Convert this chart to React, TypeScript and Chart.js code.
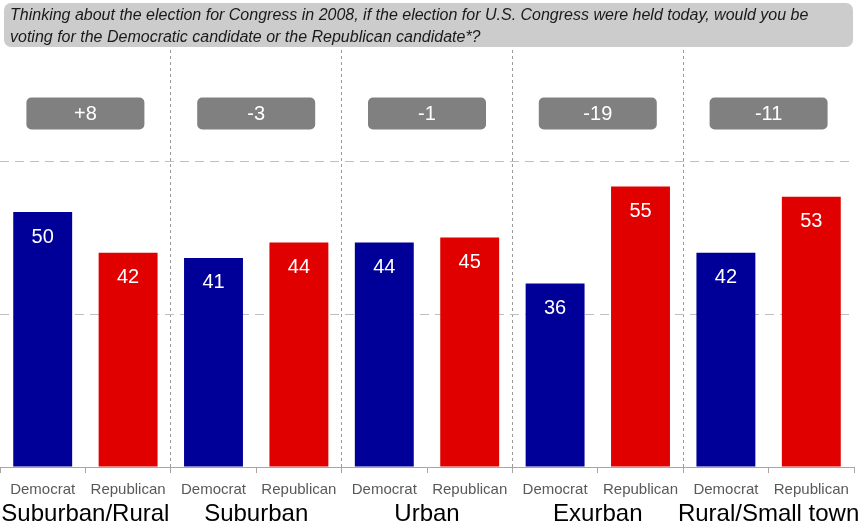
import React, { useEffect, useRef } from 'react';
import { Chart, registerables } from 'chart.js';

Chart.register(...registerables);

const question =
  'Thinking about the election for Congress in 2008, if the election for U.S. Congress were held today, would you be voting for the Democratic candidate or the Republican candidate*?';
const groups = ['Suburban/Rural', 'Suburban', 'Urban', 'Exurban', 'Rural/Small town'];
const parties = ['Democrat', 'Republican'];
const demValues = [50, 41, 44, 36, 42];
const repValues = [42, 44, 45, 55, 53];
const margins = ['+8', '-3', '-1', '-19', '-11'];
const gridValues = [30, 60];

const DEM = '#000099';
const REP = '#E00000';
const FONT = "'Liberation Sans', Arial, Helvetica, sans-serif";

export default function App() {
  const ref = useRef<HTMLCanvasElement>(null);

  useEffect(() => {
    const labels = groups.flatMap(() => parties);
    const values = groups.flatMap((_, i) => [demValues[i], repValues[i]]);
    const colors = groups.flatMap(() => [DEM, REP]);

    const overlay = {
      id: 'overlay',
      afterDatasetsDraw(chart: any) {
        const ctx = chart.ctx;
        const meta = chart.getDatasetMeta(0);
        const x = chart.scales.x;
        const y = chart.scales.y;
        ctx.save();
        ctx.textAlign = 'center';
        ctx.textBaseline = 'middle';
        ctx.font = `20px ${FONT}`;
        ctx.fillStyle = '#ffffff';
        meta.data.forEach((bar: any, i: number) => {
          ctx.fillText(String(values[i]), bar.x, bar.y + 25);
        });
        groups.forEach((g, gi) => {
          const cx = (x.getPixelForValue(2 * gi) + x.getPixelForValue(2 * gi + 1)) / 2;
          const cy = y.getPixelForValue(69.3);
          const w = 118;
          const h = 32;
          ctx.fillStyle = '#808080';
          ctx.beginPath();
          ctx.roundRect(cx - w / 2, cy - h / 2, w, h, 5);
          ctx.fill();
          ctx.fillStyle = '#ffffff';
          ctx.font = `20px ${FONT}`;
          ctx.fillText(margins[gi], cx, cy + 1);
          ctx.fillStyle = '#000000';
          ctx.font = `24px ${FONT}`;
          ctx.fillText(g, cx, chart.chartArea.bottom + 47);
        });
        ctx.restore();
      },
    };

    const chart = new Chart(ref.current as HTMLCanvasElement, {
      type: 'bar',
      data: {
        labels,
        datasets: [
          {
            data: values,
            backgroundColor: colors,
            borderWidth: 0,
            categoryPercentage: 1,
            barPercentage: 0.69,
          },
        ],
      },
      options: {
        animation: false,
        responsive: true,
        maintainAspectRatio: false,
        layout: { padding: { top: 8, right: 7, left: 0, bottom: 0 } },
        plugins: { legend: { display: false }, tooltip: { enabled: false } },
        scales: {
          x: {
            afterFit: (s: any) => {
              s.height = 58;
            },
            border: { display: true, color: '#a6a6a6', width: 1, dash: [3, 3] },
            grid: {
              offset: true,
              drawTicks: true,
              tickLength: 6,
              tickColor: '#a6a6a6',
              lineWidth: 1,
              color: (c: any) =>
                typeof c.index === 'number' && c.index > 0 && c.index < 10 && c.index % 2 === 0
                  ? '#9a9a9a'
                  : 'rgba(0,0,0,0)',
            },
            ticks: {
              autoSkip: false,
              maxRotation: 0,
              padding: 8,
              color: '#595959',
              font: { family: FONT, size: 15 },
            },
          },
          y: {
            min: 0,
            max: 90,
            afterFit: (s: any) => {
              s.width = 0;
            },
            border: { display: false, dash: [9, 6] },
            grid: {
              drawTicks: false,
              lineWidth: 1,
              color: (c: any) =>
                c.tick && gridValues.includes(c.tick.value) ? '#bfbfbf' : 'rgba(0,0,0,0)',
            },
            ticks: { display: false, stepSize: 30 },
          },
        },
      },
      plugins: [overlay],
    });
    return () => chart.destroy();
  }, []);

  return (
    <div style={{ position: 'fixed', left: 0, top: 0, width: 861, height: 525, background: '#fff' }}>
      <canvas ref={ref} />
      <div
        style={{
          position: 'absolute',
          left: 4,
          top: 3,
          width: 849,
          height: 44,
          boxSizing: 'border-box',
          background: '#cccccc',
          borderRadius: 7,
          padding: '1px 6px',
          fontFamily: FONT,
          fontStyle: 'italic',
          fontSize: 16,
          lineHeight: '22px',
          color: '#1a1a1a',
          whiteSpace: 'nowrap',
        }}
      >
        Thinking about the election for Congress in 2008, if the election for U.S. Congress were held today, would you be
        <br />
        voting for the Democratic candidate or the Republican candidate*?
      </div>
    </div>
  );
}
